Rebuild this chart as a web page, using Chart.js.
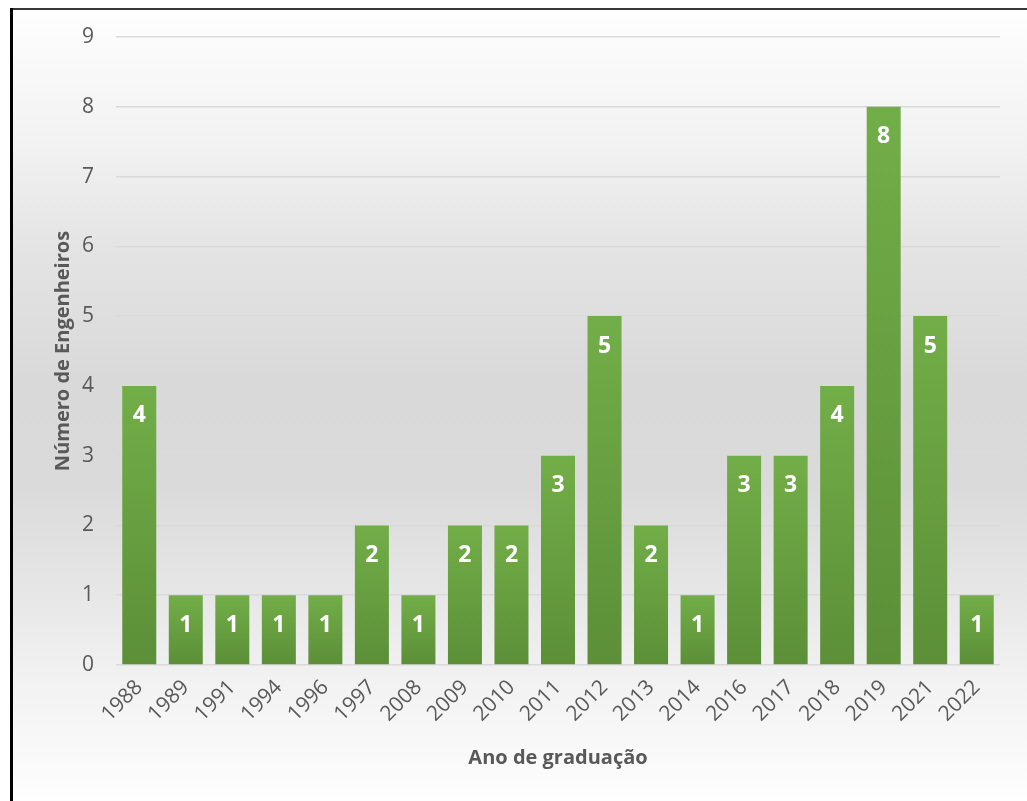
<!DOCTYPE html>
<html>
<head>
<meta charset="utf-8">
<script src="https://cdn.jsdelivr.net/npm/chart.js@4.4.1/dist/chart.umd.min.js"></script>
<style>
  html, body { margin: 0; padding: 0; background: #ffffff; }
  #wrap { width: 1027px; height: 801px; position: relative; }
</style>
</head>
<body>
<div id="wrap"><canvas id="gradChart"></canvas></div>
<script>
// Graduation years and number of engineers per year
const anos = ['1988', '1989', '1991', '1994', '1996', '1997', '2008', '2009', '2010', '2011',
              '2012', '2013', '2014', '2016', '2017', '2018', '2019', '2021', '2022'];
const engenheiros = [4, 1, 1, 1, 1, 2, 1, 2, 2, 3, 5, 2, 1, 3, 3, 4, 8, 5, 1];
const yTicks = [0, 1, 2, 3, 4, 5, 6, 7, 8, 9];

const textColor = '#595959';
const fontFamily = '"Open Sans", "Noto Sans", sans-serif';

// Page background: grey band fading to white top and bottom, plus the frame lines
const backgroundPlugin = {
    id: 'backdrop',
    beforeDraw(chart) {
        const c = chart.ctx;
        const w = chart.width, h = chart.height;
        c.save();
        c.fillStyle = '#ffffff';
        c.fillRect(0, 0, w, h);
        const g = c.createLinearGradient(0, 10, 0, h);
        g.addColorStop(0.00, '#fefefe');
        g.addColorStop(0.18, '#f1f1f1');
        g.addColorStop(0.30, '#e4e4e4');
        g.addColorStop(0.47, '#d9d9d9');
        g.addColorStop(0.60, '#dadada');
        g.addColorStop(0.72, '#e5e5e5');
        g.addColorStop(0.85, '#f2f2f2');
        g.addColorStop(1.00, '#fefefe');
        c.fillStyle = g;
        c.fillRect(12, 10, w - 12, h - 10);
        c.fillStyle = '#383838';
        c.fillRect(10, 8, w - 10, 2);
        c.fillStyle = '#000000';
        c.fillRect(10, 8, 3, h - 8);
        c.restore();
    }
};

// White value labels inside the top of each bar
const valueLabels = {
    id: 'valueLabels',
    afterDatasetsDraw(chart) {
        const c = chart.ctx;
        const meta = chart.getDatasetMeta(0);
        c.save();
        c.fillStyle = '#ffffff';
        c.font = 'bold 23px ' + fontFamily;
        c.textAlign = 'center';
        c.textBaseline = 'middle';
        meta.data.forEach((bar, i) => {
            c.fillText(String(engenheiros[i]), bar.x, bar.y + 30);
        });
        c.restore();
    }
};

function barGradient(context) {
    const chart = context.chart;
    if (!chart.chartArea || context.type !== 'data') return '#68a042';
    const yScale = chart.scales.y;
    const top = yScale.getPixelForValue(context.parsed.y);
    const base = yScale.getPixelForValue(0);
    const g = chart.ctx.createLinearGradient(0, top, 0, base);
    g.addColorStop(0, '#72ae48');
    g.addColorStop(1, '#5c8f38');
    return g;
}

const ctx = document.getElementById('gradChart').getContext('2d');
new Chart(ctx, {
    type: 'bar',
    data: {
        labels: anos,
        datasets: [{
            data: engenheiros,
            backgroundColor: barGradient,
            borderWidth: 0,
            categoryPercentage: 1,
            barPercentage: 0.731
        }]
    },
    options: {
        responsive: true,
        maintainAspectRatio: false,
        animation: false,
        layout: { padding: { left: 12, top: 37, right: 27, bottom: 0 } },
        plugins: {
            legend: { display: false },
            tooltip: { enabled: false }
        },
        scales: {
            x: {
                grid: { display: false },
                border: { display: false },
                ticks: {
                    color: textColor,
                    maxRotation: 45,
                    minRotation: 45,
                    padding: 2,
                    font: { family: fontFamily, size: 21 }
                },
                title: {
                    display: true,
                    text: 'Ano de graduação',
                    color: textColor,
                    padding: { top: 0, bottom: 31 },
                    font: { family: fontFamily, size: 20, weight: 'bold' }
                },
                afterFit(scale) { scale.height = 801 - 665; }
            },
            y: {
                min: 0,
                max: 9,
                afterBuildTicks(scale) { scale.ticks = yTicks.map(v => ({ value: v })); },
                grid: { color: '#d9d9d9', lineWidth: 1.5, drawTicks: false },
                border: { display: false },
                ticks: {
                    color: textColor,
                    padding: 22,
                    font: { family: fontFamily, size: 21 }
                },
                title: {
                    display: true,
                    text: 'Número de Engenheiros',
                    color: textColor,
                    padding: { top: 39, bottom: 0 },
                    font: { family: fontFamily, size: 20, weight: 'bold' }
                },
                afterFit(scale) { scale.width = 116 - 12; }
            }
        }
    },
    plugins: [backgroundPlugin, valueLabels]
});
</script>
</body>
</html>
